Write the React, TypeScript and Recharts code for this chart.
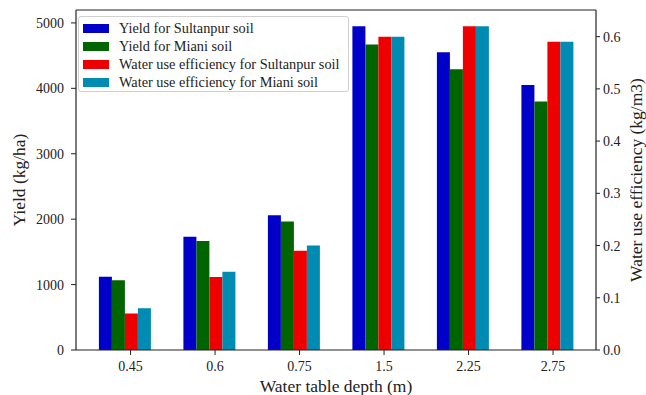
import { BarChart, Bar, XAxis, YAxis, ReferenceLine } from "recharts";

const depths = ["0.45", "0.6", "0.75", "1.5", "2.25", "2.75"];
const yieldSultanpur = [1120, 1730, 2060, 4950, 4550, 4050];
const yieldMiani = [1065, 1665, 1965, 4670, 4290, 3800];
const wueSultanpur = [0.07, 0.14, 0.19, 0.6, 0.62, 0.59];
const wueMiani = [0.08, 0.15, 0.2, 0.6, 0.62, 0.59];

const yieldTicks = [0, 1000, 2000, 3000, 4000, 5000];
const wueTicks = [0, 0.1, 0.2, 0.3, 0.4, 0.5, 0.6];
const YIELD_MAX = 5197.5;
const WUE_MAX = 0.651;

const SERIES = [
  { key: "ys", name: "Yield for Sultanpur soil", color: "#0000c8", axis: "left" },
  { key: "ym", name: "Yield for Miani soil", color: "#006400", axis: "left" },
  { key: "ws", name: "Water use efficiency for Sultanpur soil", color: "#ee0000", axis: "right" },
  { key: "wm", name: "Water use efficiency for Miani soil", color: "#008bb2", axis: "right" },
];

const data = depths.map((d, i) => ({
  depth: d,
  ys: yieldSultanpur[i],
  ym: yieldMiani[i],
  ws: wueSultanpur[i],
  wm: wueMiani[i],
}));

const FONT = "'Liberation Serif', serif";
const INK = "#222";

// matplotlib puts the tick under the 3rd bar of each group
function DepthTick({ x, y, payload }: any) {
  const tx = x + 6.3;
  return (
    <g>
      <line x1={tx} y1={y} x2={tx} y2={y + 5} stroke={INK} strokeWidth={1} />
      <text x={tx} y={y + 21} textAnchor="middle" fontSize={14} fill={INK} fontFamily={FONT}>
        {payload.value}
      </text>
    </g>
  );
}

function Legend() {
  return (
    <div
      style={{
        position: "absolute",
        left: 78,
        top: 16,
        width: 271,
        height: 76,
        boxSizing: "border-box",
        border: "1px solid #d0d0d0",
        borderRadius: 3,
        background: "rgba(255,255,255,0.9)",
        fontFamily: FONT,
        fontSize: 14.3,
        color: INK,
        paddingTop: 2,
      }}
    >
      {SERIES.map((s) => (
        <div key={s.key} style={{ height: 18, display: "flex", alignItems: "center" }}>
          <span style={{ display: "inline-block", width: 26, height: 9, background: s.color, marginLeft: 4, marginRight: 10 }} />
          <span>{s.name}</span>
        </div>
      ))}
    </div>
  );
}

export default function App() {
  return (
    <div style={{ position: "absolute", left: 0, top: 0, width: 646, height: 395, background: "#fff" }}>
      <BarChart
        width={646}
        height={395}
        data={data}
        margin={{ top: 10, right: 0, bottom: 0, left: 0 }}
        barCategoryGap="20%"
        barGap={0}
      >
        <XAxis
          dataKey="depth"
          height={45}
          padding={{ left: 6, right: 7 }}
          tickLine={false}
          tickSize={0}
          tickMargin={0}
          tick={<DepthTick />}
          axisLine={{ stroke: INK, strokeWidth: 1.2 }}
          label={{ value: "Water table depth (m)", position: "insideBottom", offset: 3, fontSize: 17.5, fill: INK, fontFamily: FONT }}
        />
        <YAxis
          yAxisId="left"
          width={76}
          domain={[0, YIELD_MAX]}
          ticks={yieldTicks}
          tickSize={5}
          tickMargin={7}
          tick={{ fontSize: 14, fill: INK, fontFamily: FONT }}
          tickLine={{ stroke: INK }}
          axisLine={{ stroke: INK, strokeWidth: 1.2 }}
          label={{ value: "Yield (kg/ha)", angle: -90, position: "center", dx: -19, fontSize: 17.5, fill: INK, fontFamily: FONT }}
        />
        <YAxis
          yAxisId="right"
          orientation="right"
          width={50}
          domain={[0, WUE_MAX]}
          ticks={wueTicks}
          tickFormatter={(v: number) => v.toFixed(1)}
          tickSize={4}
          tickMargin={3}
          tick={{ fontSize: 14, fill: INK, fontFamily: FONT }}
          tickLine={{ stroke: INK }}
          axisLine={{ stroke: INK, strokeWidth: 1.2 }}
          label={{ value: "Water use efficiency (kg/m3)", angle: -90, position: "center", dx: 15, fontSize: 17.5, fill: INK, fontFamily: FONT }}
        />
        {SERIES.map((s) => (
          <Bar key={s.key} dataKey={s.key} name={s.name} yAxisId={s.axis} fill={s.color} isAnimationActive={false} />
        ))}
        <ReferenceLine yAxisId="left" y={YIELD_MAX} stroke={INK} strokeWidth={1.2} />
      </BarChart>
      <Legend />
    </div>
  );
}
